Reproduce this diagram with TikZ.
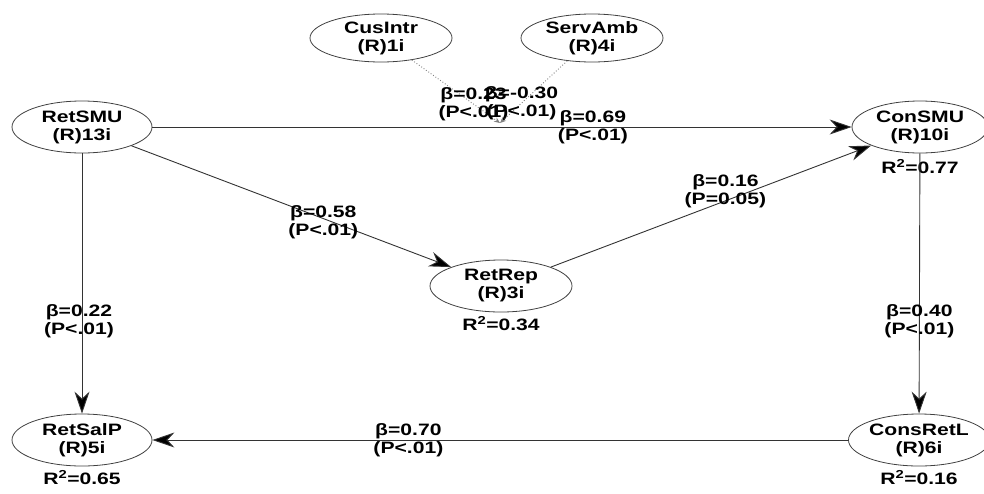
\documentclass[tikz,border=0pt]{standalone}
\usepackage{fontspec}
\setmainfont[FakeStretch=1.28]{Liberation Sans}
\usetikzlibrary{arrows.meta, shapes.geometric, positioning}

\begin{document}
\begin{tikzpicture}[
        x=1pt, y=-1pt,
        font=\fontsize{16.5}{18}\selectfont\bfseries,
        latent/.style={ellipse, draw=black!75, line width=0.8pt, minimum width=140pt, minimum height=52pt, inner sep=0pt, align=center},
        rsq/.style={inner sep=1pt},
        path/.style={-{Stealth[length=22pt, width=15pt, inset=7pt, fill=black]}, draw=black!80, line width=0.9pt},
        moder/.style={-{Stealth[length=6pt, width=5pt]}, draw=black!50, dotted, line width=0.9pt},
        coef/.style={align=center, inner sep=0pt}
    ]
    \useasboundingbox (0,0) rectangle (984,493);

    % Konstrukte
    \node (RetSMU) [latent] at (82,127) {RetSMU\\(R)13i};
    \node (ConSMU) [latent, minimum width=136pt] at (920,127) {ConSMU\\(R)10i};
    \node (RetRep) [latent, minimum width=142pt] at (501,286) {RetRep\\(R)3i};
    \node (RetSalP) [latent] at (82,440) {RetSalP\\(R)5i};
    \node (ConsRetL) [latent, minimum width=136pt] at (919,440) {ConsRetL\\(R)6i};

    % Moderatoren
    \node (CusIntr) [latent, minimum width=142pt, minimum height=48pt] at (381,38) {CusIntr\\(R)1i};
    \node (ServAmb) [latent, minimum width=142pt, minimum height=48pt] at (592,38) {ServAmb\\(R)4i};
    \coordinate (mod) at (500,123);

    % R-Quadrat
    \node (r2ConSMU) [rsq, below=5pt of ConSMU] {R\textsuperscript{2}=0.77};
    \node (r2RetRep) [rsq, below=3pt of RetRep] {R\textsuperscript{2}=0.34};
    \node (r2RetSalP) [rsq, below=3pt of RetSalP] {R\textsuperscript{2}=0.65};
    \node (r2ConsRetL) [rsq, below=3pt of ConsRetL] {R\textsuperscript{2}=0.16};

    % Pfade
    \draw [path] (RetSMU) -- (ConSMU) node[coef, pos=0.63] {β=0.69\\(P<.01)};
    \draw [path] (RetSMU) -- (RetRep) node[coef, pos=0.6, yshift=-4pt] {β=0.58\\(P<.01)};
    \draw [path] (RetRep) -- (ConSMU) node[coef, pos=0.545, yshift=10pt] {β=0.16\\(P=0.05)};
    \draw [path] (RetSMU) -- (RetSalP) node[coef, pos=0.646, xshift=-3pt] {β=0.22\\(P<.01)};
    \draw [path] (ConSMU) -- (ConsRetL) node[coef, pos=0.646] {β=0.40\\(P<.01)};
    \draw [path] (ConsRetL) -- (RetSalP) node[coef, pos=0.632] {β=0.70\\(P<.01)};

    \draw [moder] (CusIntr) -- (mod) node[coef, pos=0.7] {β=0.23\\(P<.01)};
    \draw [moder] (ServAmb) -- (mod) node[coef, pos=0.68] {β=-0.30\\(P<.01)};

\end{tikzpicture}
\end{document}
